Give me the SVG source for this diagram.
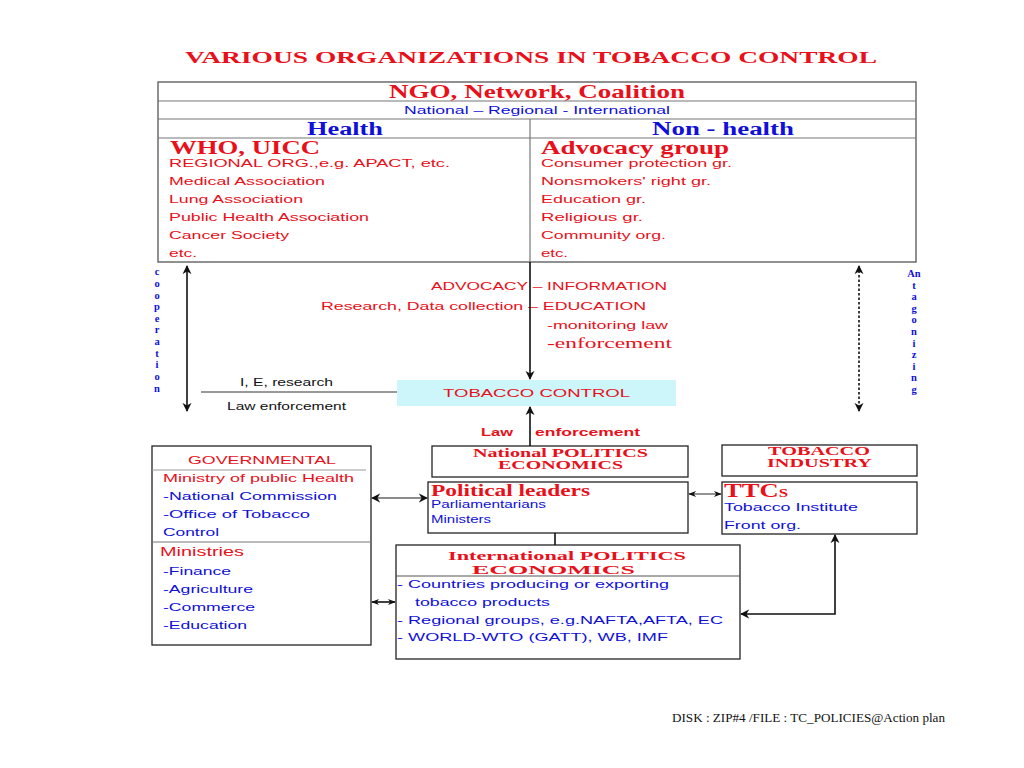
<svg xmlns="http://www.w3.org/2000/svg" width="1024" height="768" viewBox="0 0 1024 768">
<style>
.serif{font-family:"Liberation Serif","Times New Roman",serif;font-weight:bold}
.sans{font-family:"Liberation Sans",Arial,sans-serif}
.red{fill:#e8101a}
.blue{fill:#1010d8}
.blk{fill:#111}
.box{fill:#fff;stroke:#222;stroke-width:1.3}
.tbl{fill:none;stroke:#555;stroke-width:1.3}
.sep{stroke:#777;stroke-width:1.2}
.conn{stroke:#111;stroke-width:1.6;fill:none}
</style>
<defs>
<marker id="ah" viewBox="0 0 10 10" refX="9" refY="5" markerWidth="9" markerHeight="11" markerUnits="userSpaceOnUse" orient="auto-start-reverse">
<path d="M0,0 L10,5 L0,10 L3,5 z" fill="#111"/>
</marker>
<marker id="ahs" viewBox="0 0 10 10" refX="9" refY="5" markerWidth="8" markerHeight="8" markerUnits="userSpaceOnUse" orient="auto-start-reverse">
<path d="M0,1 L10,5 L0,9 L3,5 z" fill="#111"/>
</marker>
</defs>
<rect width="1024" height="768" fill="#fff"/>

<text id="title" x="185" y="63" class="serif red" font-size="17.5" textLength="692" lengthAdjust="spacingAndGlyphs">VARIOUS ORGANIZATIONS IN TOBACCO  CONTROL</text>

<g id="ngo">
<rect x="158" y="82" width="758" height="180" class="tbl"/>
<line x1="158" y1="101" x2="916" y2="101" class="sep"/>
<line x1="158" y1="119" x2="916" y2="119" class="sep"/>
<line x1="158" y1="138" x2="916" y2="138" class="sep"/>
<line x1="530" y1="119" x2="530" y2="262" class="sep"/>
<text x="389" y="98" class="serif red" font-size="18" textLength="296" lengthAdjust="spacingAndGlyphs">NGO, Network, Coalition</text>
<text x="404" y="114" class="sans blue" font-size="11" textLength="266" lengthAdjust="spacingAndGlyphs">National – Regional - International</text>
<text x="307" y="135" class="serif blue" font-size="18" textLength="76" lengthAdjust="spacingAndGlyphs">Health</text>
<text x="652" y="135" class="serif blue" font-size="18" textLength="142" lengthAdjust="spacingAndGlyphs">Non - health</text>
<text x="170" y="154" class="serif red" font-size="19" textLength="150" lengthAdjust="spacingAndGlyphs">WHO, UICC</text>
<g class="sans red" font-size="11.5">
<text x="169" y="167" textLength="281" lengthAdjust="spacingAndGlyphs">REGIONAL ORG.,e.g. APACT, etc.</text>
<text x="169" y="185" textLength="156" lengthAdjust="spacingAndGlyphs">Medical Association</text>
<text x="169" y="203" textLength="134" lengthAdjust="spacingAndGlyphs">Lung Association</text>
<text x="169" y="221" textLength="200" lengthAdjust="spacingAndGlyphs">Public Health Association</text>
<text x="169" y="239" textLength="120" lengthAdjust="spacingAndGlyphs">Cancer Society</text>
<text x="169" y="257" textLength="28" lengthAdjust="spacingAndGlyphs">etc.</text>
</g>
<text x="541" y="154" class="serif red" font-size="19" textLength="188" lengthAdjust="spacingAndGlyphs">Advocacy group</text>
<g class="sans red" font-size="11.5">
<text x="541" y="167" textLength="191" lengthAdjust="spacingAndGlyphs">Consumer protection gr.</text>
<text x="541" y="185" textLength="170" lengthAdjust="spacingAndGlyphs">Nonsmokers' right gr.</text>
<text x="541" y="203" textLength="105" lengthAdjust="spacingAndGlyphs">Education gr.</text>
<text x="541" y="221" textLength="102" lengthAdjust="spacingAndGlyphs">Religious gr.</text>
<text x="541" y="239" textLength="125" lengthAdjust="spacingAndGlyphs">Community org.</text>
<text x="541" y="257" textLength="27" lengthAdjust="spacingAndGlyphs">etc.</text>
</g>
</g>

<g id="cooperation-label" class="serif blue" font-size="10.5" text-anchor="middle">
<text x="157" y="275">c</text><text x="157" y="287">o</text><text x="157" y="299">o</text><text x="157" y="310">p</text><text x="157" y="322">e</text><text x="157" y="333">r</text><text x="157" y="345">a</text><text x="157" y="357">t</text><text x="157" y="368">i</text><text x="157" y="380">o</text><text x="157" y="392">n</text>
</g>
<g id="antagonizing-label" class="serif blue" font-size="10.5" text-anchor="middle">
<text x="914" y="277">An</text><text x="914" y="289">t</text><text x="914" y="300">a</text><text x="914" y="312">g</text><text x="914" y="323">o</text><text x="914" y="335">n</text><text x="914" y="347">i</text><text x="914" y="358">z</text><text x="914" y="370">i</text><text x="914" y="381">n</text><text x="914" y="393">g</text>
</g>

<g id="activities">
<text x="431" y="290" class="sans red" font-size="11.5" textLength="236" lengthAdjust="spacingAndGlyphs">ADVOCACY – INFORMATION</text>
<text x="321" y="310" class="sans red" font-size="11.5" textLength="325" lengthAdjust="spacingAndGlyphs">Research, Data collection – EDUCATION</text>
<text x="547" y="329" class="sans red" font-size="11.5" textLength="121" lengthAdjust="spacingAndGlyphs">-monitoring law</text>
<text x="547" y="348" font-family="Liberation Serif, Times New Roman, serif" class="red" font-size="15" textLength="125" lengthAdjust="spacingAndGlyphs">-enforcement</text>
<text x="240" y="386" class="sans blk" font-size="10.5" textLength="93" lengthAdjust="spacingAndGlyphs">I, E, research</text>
<text x="227" y="410" class="sans blk" font-size="10.5" textLength="119" lengthAdjust="spacingAndGlyphs">Law enforcement</text>
<text x="481" y="436" class="sans red" font-size="11.5" font-weight="bold" textLength="32" lengthAdjust="spacingAndGlyphs">Law</text>
<text x="535" y="436" class="sans red" font-size="11.5" font-weight="bold" textLength="105" lengthAdjust="spacingAndGlyphs">enforcement</text>
</g>

<g id="tobacco-control">
<rect x="397" y="380" width="279" height="26" fill="#cdf6fb"/>
<text x="443" y="397" class="sans red" font-size="11.5" textLength="187" lengthAdjust="spacingAndGlyphs">TOBACCO  CONTROL</text>
</g>

<g id="governmental">
<rect x="152" y="446" width="219" height="199" class="box"/>
<line x1="152" y1="470" x2="366" y2="470" stroke="#999" stroke-width="1.2"/>
<line x1="152" y1="542" x2="371" y2="542" stroke="#777" stroke-width="1.2"/>
<text x="188" y="464" class="sans red" font-size="11.5" textLength="148" lengthAdjust="spacingAndGlyphs">GOVERNMENTAL</text>
<text x="163" y="482" class="sans red" font-size="11.5" textLength="191" lengthAdjust="spacingAndGlyphs">Ministry of public Health</text>
<g class="sans blue" font-size="11.5">
<text x="163" y="500" textLength="174" lengthAdjust="spacingAndGlyphs">-National Commission</text>
<text x="163" y="518" textLength="147" lengthAdjust="spacingAndGlyphs">-Office of Tobacco</text>
<text x="163" y="536" textLength="56" lengthAdjust="spacingAndGlyphs">Control</text>
</g>
<text x="160" y="556" class="sans red" font-size="12.5" textLength="84" lengthAdjust="spacingAndGlyphs">Ministries</text>
<g class="sans blue" font-size="11.5">
<text x="163" y="575" textLength="68" lengthAdjust="spacingAndGlyphs">-Finance</text>
<text x="163" y="593" textLength="90" lengthAdjust="spacingAndGlyphs">-Agriculture</text>
<text x="163" y="611" textLength="92" lengthAdjust="spacingAndGlyphs">-Commerce</text>
<text x="163" y="629" textLength="84" lengthAdjust="spacingAndGlyphs">-Education</text>
</g>
</g>

<g id="national-politics">
<rect x="432" y="446" width="256" height="31" class="box"/>
<text x="473" y="457" class="serif red" font-size="11.5" textLength="175" lengthAdjust="spacingAndGlyphs">National POLITICS</text>
<text x="498" y="469" class="serif red" font-size="11.5" textLength="125" lengthAdjust="spacingAndGlyphs">ECONOMICS</text>
</g>

<g id="political-leaders">
<rect x="428" y="482" width="260" height="51" class="box"/>
<text x="431" y="496" class="serif red" font-size="16" textLength="159" lengthAdjust="spacingAndGlyphs">Political leaders</text>
<text x="431" y="508" class="sans blue" font-size="10" textLength="115" lengthAdjust="spacingAndGlyphs">Parliamentarians</text>
<text x="431" y="523" class="sans blue" font-size="10" textLength="60" lengthAdjust="spacingAndGlyphs">Ministers</text>
</g>

<g id="international-politics">
<rect x="396" y="545" width="344" height="114" class="box"/>
<line x1="396" y1="576" x2="740" y2="576" stroke="#555" stroke-width="1.2"/>
<text x="448" y="560" class="serif red" font-size="13" textLength="238" lengthAdjust="spacingAndGlyphs">International POLITICS</text>
<text x="472" y="574" class="serif red" font-size="13" textLength="163" lengthAdjust="spacingAndGlyphs">ECONOMICS</text>
<g class="sans blue" font-size="11">
<text x="397" y="588" textLength="272" lengthAdjust="spacingAndGlyphs">- Countries producing or exporting</text>
<text x="415" y="606" textLength="135" lengthAdjust="spacingAndGlyphs">tobacco products</text>
<text x="397" y="624" textLength="326" lengthAdjust="spacingAndGlyphs">- Regional groups, e.g.NAFTA,AFTA, EC</text>
<text x="397" y="641" textLength="271" lengthAdjust="spacingAndGlyphs">- WORLD-WTO (GATT), WB, IMF</text>
</g>
</g>

<g id="tobacco-industry">
<rect x="722" y="445" width="195" height="31" class="box"/>
<text x="768" y="455" class="serif red" font-size="11.5" textLength="102" lengthAdjust="spacingAndGlyphs">TOBACCO</text>
<text x="767" y="467" class="serif red" font-size="11.5" textLength="105" lengthAdjust="spacingAndGlyphs">INDUSTRY</text>
</g>

<g id="ttcs">
<rect x="722" y="482" width="195" height="52" class="box"/>
<text x="724" y="497" class="serif red" font-size="19" textLength="64" lengthAdjust="spacingAndGlyphs">TTC<tspan font-size="12">S</tspan></text>
<text x="724" y="511" class="sans blue" font-size="11" textLength="134" lengthAdjust="spacingAndGlyphs">Tobacco Institute</text>
<text x="724" y="529" class="sans blue" font-size="11" textLength="77" lengthAdjust="spacingAndGlyphs">Front org.</text>
</g>

<g id="connectors">
<line x1="187" y1="266" x2="187" y2="411" class="conn" marker-start="url(#ah)" marker-end="url(#ah)"/>
<line x1="859" y1="266" x2="859" y2="411" class="conn" stroke-dasharray="2.5,2" marker-start="url(#ah)" marker-end="url(#ah)"/>
<line x1="530" y1="262" x2="530" y2="379" class="conn" marker-end="url(#ah)"/>
<line x1="530" y1="446" x2="530" y2="407" class="conn" marker-end="url(#ah)"/>
<line x1="201" y1="392" x2="397" y2="392" stroke="#333" stroke-width="1"/>
<line x1="372" y1="498" x2="427" y2="498" stroke="#666" stroke-width="1.4" marker-start="url(#ah)" marker-end="url(#ah)"/>
<line x1="689" y1="494" x2="721" y2="494" stroke="#666" stroke-width="1.4" marker-start="url(#ahs)" marker-end="url(#ahs)"/>
<line x1="555" y1="533" x2="555" y2="545" class="conn"/>
<line x1="372" y1="602" x2="395" y2="602" class="conn" marker-start="url(#ahs)" marker-end="url(#ahs)"/>
<path d="M741,614 H835 V535" class="conn" marker-start="url(#ah)" marker-end="url(#ah)"/>
</g>

<text id="footer" x="672" y="722" font-family="Liberation Serif, Times New Roman, serif" font-size="12" fill="#111" textLength="273" lengthAdjust="spacingAndGlyphs">DISK : ZIP#4 /FILE : TC_POLICIES@Action plan</text>
</svg>
